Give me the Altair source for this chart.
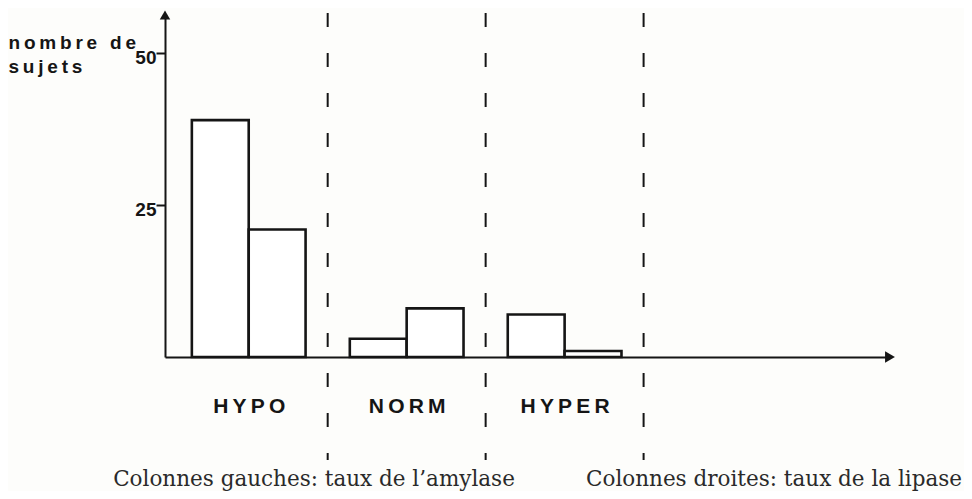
import altair as alt
import pandas as pd

# ---- data ----
groups = ["HYPO", "NORM", "HYPER"]
amylase = [39, 3, 7]      # colonnes gauches
lipase = [21, 8, 1]       # colonnes droites
y_ticks = [25, 50]
dividers = [0.5, 1.5, 2.5]
y_title = ["nombre de", "sujets"]
caption_left = "Colonnes gauches: taux de l’amylase"
caption_right = "Colonnes droites: taux de la lipase"

X_MIN, X_MAX = -0.53, 4.06
Y_MAX = 56.3
BAR_W = 0.36
INK = "#151515"
TS = "\u2009"


def spaced(s):
    return TS.join(s)


rows = []
for i, g in enumerate(groups):
    rows.append({"g": i, "side": "gauche", "n": amylase[i]})
    rows.append({"g": i, "side": "droite", "n": lipase[i]})
bars_df = pd.DataFrame(rows)

xs = alt.Scale(domain=[X_MIN, X_MAX], nice=False, zero=False)
ys = alt.Scale(domain=[0, Y_MAX], nice=False, zero=True)

label_expr = " : ".join(
    [f"datum.value == {i} ? '{spaced(g)}'" for i, g in enumerate(groups)]
) + " : ''"

bars = alt.Chart(bars_df).transform_calculate(
    x0=f"datum.side == 'gauche' ? datum.g - {BAR_W} : datum.g",
    zero="0",
).transform_calculate(
    x1=f"datum.x0 + {BAR_W}"
).mark_rect(fill="white", stroke=INK, strokeWidth=2.6).encode(
    x=alt.X("x0:Q", scale=xs, axis=alt.Axis(
        values=[0, 1, 2], labelExpr=label_expr, ticks=False, grid=False,
        domainColor=INK, domainWidth=2, labelFont="Liberation Sans",
        labelFontWeight="bold", labelFontSize=21, labelColor=INK,
        labelPadding=38, title=None)),
    x2="x1:Q",
    y=alt.Y("n:Q", scale=ys, axis=alt.Axis(
        values=y_ticks, tickSize=9, tickWidth=2, tickColor=INK, grid=False,
        domainColor=INK, domainWidth=2, labelFont="Liberation Sans",
        labelFontWeight="bold", labelFontSize=19, labelColor=INK,
        labelPadding=0, labelOffset=4, title=[spaced(t) for t in y_title],
        titleAngle=0, titleAlign="left", titleBaseline="alphabetic",
        titleX=-157, titleY=33, titleFont="Liberation Sans",
        titleFontWeight="bold", titleFontSize=19, titleLineHeight=24,
        titleColor=INK)),
    y2="zero:Q",
)

rules = alt.Chart(pd.DataFrame({"d": dividers})).mark_rule(
    stroke=INK, strokeWidth=2, strokeDash=[14, 26]
).encode(x=alt.X("d:Q", scale=xs), y=alt.value(-2), y2=alt.value(445))

arrow_up = alt.Chart(pd.DataFrame({"x": [X_MIN], "y": [Y_MAX]})).mark_point(
    shape="triangle-up", filled=True, color=INK, size=110, opacity=1
).encode(x=alt.X("x:Q", scale=xs), y=alt.Y("y:Q", scale=ys))

arrow_right = alt.Chart(pd.DataFrame({"x": [X_MAX], "y": [0]})).mark_point(
    shape="triangle-right", filled=True, color=INK, size=130, opacity=1
).encode(x=alt.X("x:Q", scale=xs), y=alt.Y("y:Q", scale=ys))

cap_l = alt.Chart(pd.DataFrame({"t": [caption_left]})).mark_text(
    font="DejaVu Serif", fontSize=21.5, color="#2a2a2a", align="center",
    baseline="alphabetic"
).encode(text="t:N", x=alt.value(149), y=alt.value(471))

cap_r = alt.Chart(pd.DataFrame({"t": [caption_right]})).mark_text(
    font="DejaVu Serif", fontSize=21.5, color="#2a2a2a", align="center",
    baseline="alphabetic"
).encode(text="t:N", x=alt.value(609), y=alt.value(471))

chart = alt.layer(rules, bars, arrow_up, arrow_right, cap_l, cap_r).properties(
    width=725, height=342,
    autosize=alt.AutoSizeParams(type="none"),
    padding={"left": 157, "top": 7, "right": 74, "bottom": 134},
    background="#fdfdfb",
).configure_view(stroke=None)

chart.save("out.html", embed_options={"renderer": "svg", "actions": False})
